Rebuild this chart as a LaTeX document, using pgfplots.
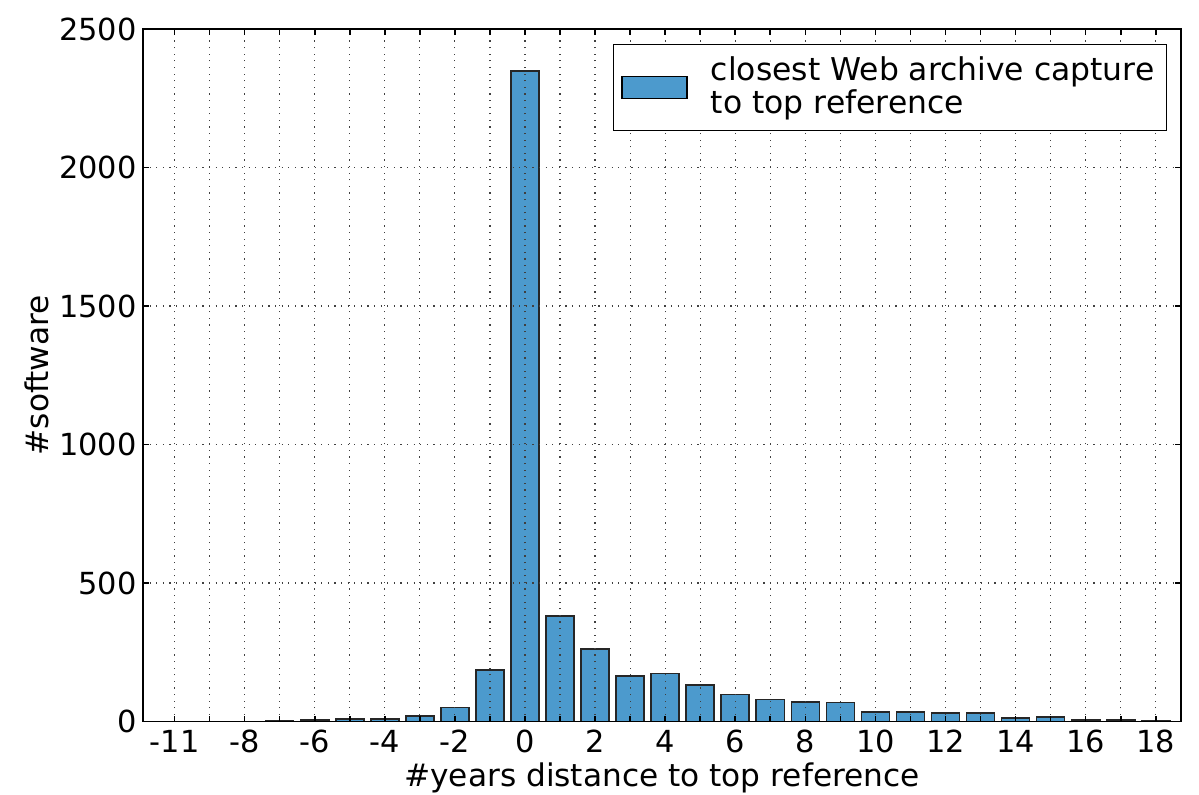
\documentclass[border=0pt]{standalone}
\usepackage{fontspec}
\setmainfont{DejaVu Sans}
\usepackage{pgfplots}
\pgfplotsset{compat=1.18}
\definecolor{barblue}{RGB}{76,154,205}
\begin{document}
\fontsize{15.2bp}{18bp}\selectfont
\begin{tikzpicture}
\useasboundingbox (-71.5bp,-36.75bp) rectangle (528bp,360.75bp);
\begin{axis}[
  at={(0,0)}, anchor=south west,
  scale only axis, width=519bp, height=346.25bp,
  xmin=-10.9, xmax=18.72, ymin=0, ymax=2500,
  xtick={-10,...,18},
  xticklabels={-11,,-8,,-6,,-4,,-2,,0,,2,,4,,6,,8,,10,,12,,14,,16,,18},
  ytick={0,500,...,2500},
  /pgf/number format/assume math mode=true,
  /pgf/number format/1000 sep={},
  grid=major,
  major grid style={black!75, line width=0.6bp, dash pattern=on 0.6bp off 2.7bp},
  axis on top,
  axis line style={black, line width=0.9bp},
  tick style={black, line width=0.8bp},
  major tick length=3bp,
  tick align=inside,
  xticklabel style={anchor=base, yshift=-15.25bp, inner sep=0pt},
  yticklabel style={anchor=east, inner sep=0pt, xshift=-3bp},
  every axis x label/.style={at={(axis description cs:0.5,0)}, anchor=base, yshift=-32.25bp, font=\fontsize{15.6bp}{18bp}\selectfont},
  every axis y label/.style={at={(axis description cs:-0.102,0.5)}, rotate=90, anchor=center, font=\fontsize{15.6bp}{18bp}\selectfont},
  xlabel={\#years distance to top reference},
  ylabel={\#software},
  legend style={at={(axis description cs:0.9865,0.9783)}, anchor=north east,
    draw=black, line width=0.6bp, fill=white, inner xsep=4bp, inner ysep=4bp,
    nodes={align=left, inner sep=2bp}, column sep=9.5bp,
    font=\fontsize{15.7bp}{16.6bp}\selectfont},
  legend image code/.code={\draw[fill=barblue, draw=black, line width=0.8bp] (0bp,-5.5bp) rectangle (32.5bp,5.5bp);},
]
\addplot[ybar, bar width=0.8, bar shift=0pt, fill=barblue, draw=black!85, line width=0.8bp]
coordinates {
(-10,0) (-9,0) (-8,0) (-7,1) (-6,6) (-5,8) (-4,10) (-3,20) (-2,51) (-1,186)
(0,2349) (1,381) (2,261) (3,164) (4,174) (5,132) (6,97) (7,80) (8,70) (9,68)
(10,35) (11,34) (12,31) (13,31) (14,13) (15,17) (16,6) (17,5) (18,2)
};
\addlegendentry{closest Web archive capture\\to top reference}
\end{axis}
\end{tikzpicture}
\end{document}
